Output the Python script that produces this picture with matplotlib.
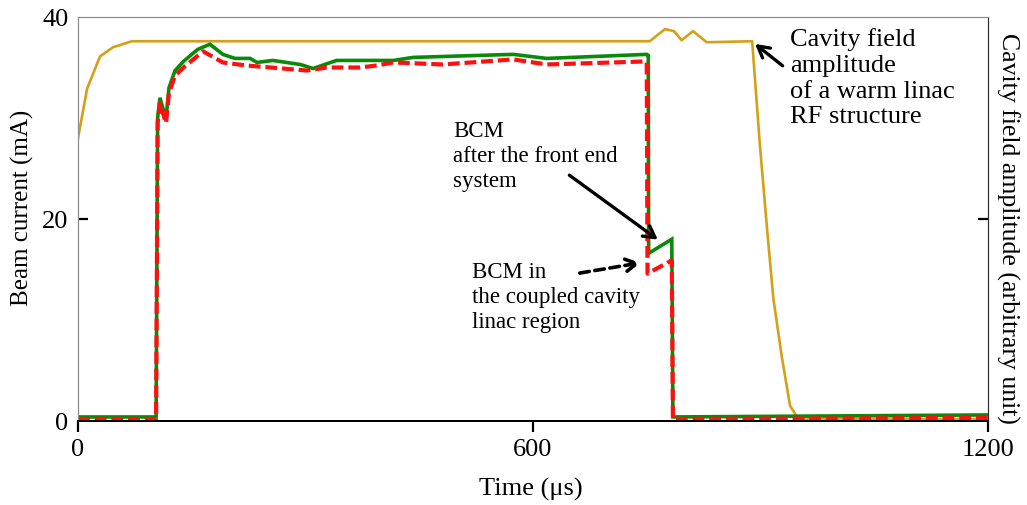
import matplotlib
matplotlib.use("Agg")
import matplotlib.pyplot as plt

plt.rcParams['font.family'] = ['Liberation Serif', 'DejaVu Serif']
plt.rcParams['lines.scale_dashes'] = False

# Cavity field amplitude (gold, right axis, arbitrary unit on same 0-40 scale)
gold_t = [0, 12, 29, 46, 71, 754, 774, 786, 796, 811, 829, 889, 899, 909, 917, 928, 939, 950, 1200]
gold_v = [28.0, 32.9, 36.1, 37.0, 37.6, 37.6, 38.8, 38.6, 37.7, 38.6, 37.5, 37.6, 27.5, 18.7, 12.1, 6.4, 1.5, 0.2, 0.2]

# BCM after the front end system (green)
green_t = [0, 103, 105, 108, 116, 120, 128, 139, 158, 174, 191, 207, 227, 236, 257, 293, 310, 341,
           394, 416, 442, 574, 618, 750, 752, 752.5, 783, 784.5, 1200]
green_v = [0.4, 0.4, 30.0, 32.0, 29.9, 33.0, 34.7, 35.6, 36.8, 37.3, 36.3, 35.9, 35.9, 35.5, 35.7, 35.3, 34.9, 35.7,
           35.7, 35.7, 36.0, 36.3, 35.9, 36.3, 36.2, 16.6, 18.0, 0.4, 0.6]

# BCM in the coupled cavity linac region (red dashed)
red_t = [0, 103, 105, 108, 116, 120, 128, 139, 165, 191, 222, 302, 328, 372, 394, 416, 481, 574, 618,
         748, 750, 751, 783, 784.5, 1200]
red_v = [0.2, 0.2, 29.5, 31.5, 29.5, 32.5, 34.2, 35.0, 36.6, 35.5, 35.2, 34.7, 35.0, 35.0, 35.2, 35.5, 35.3, 35.8, 35.3,
         35.6, 35.5, 14.6, 15.9, 0.2, 0.3]

xticks = [0, 600, 1200]
yticks = [0, 20, 40]

fig = plt.figure(figsize=(10.27, 5.06), dpi=100)
ax = fig.add_axes([78/1027, 1-422/506, 910/1027, 404/506])
ax2 = ax.twinx()

gold = '#D4A017'
ax2.plot(gold_t, gold_v, color=gold, lw=1.9, solid_joinstyle='round')
ax.plot(green_t, green_v, color='#0A8A0A', lw=2.6, solid_joinstyle='miter')
ax.plot(red_t, red_v, color='#FF1010', lw=3.0, dashes=(8.5, 3.5), dash_capstyle='butt')

ax.set_zorder(ax2.get_zorder() + 1)
ax.patch.set_visible(False)

for a in (ax, ax2):
    a.set_xlim(0, 1200)
    a.set_ylim(0, 40)

ax.set_xticks(xticks)
ax.set_xticklabels([str(v) for v in xticks])
ax.set_yticks(yticks)
ax.set_yticklabels([str(v) for v in yticks])
ax.tick_params(axis='x', direction='out', length=8, width=1.6, labelsize=19, pad=4)
ax.tick_params(axis='y', direction='in', length=7, width=1.6, labelsize=19, pad=7)
yt = ax.yaxis.get_major_ticks()
yt[0].tick1line.set_visible(False)
yt[2].tick1line.set_visible(False)

ax2.set_yticks([20])
ax2.set_yticklabels([''])
ax2.tick_params(axis='y', direction='in', length=7, width=1.6)

for a in (ax, ax2):
    a.spines['left'].set_color('#8c8c8c')
    a.spines['top'].set_color('#8c8c8c')
    a.spines['right'].set_color('#303030')
    a.spines['bottom'].set_color('black')
    a.spines['bottom'].set_linewidth(1.4)

ax.set_xlabel('Time (μs)', fontsize=19, va='center', ha='center')
ax.xaxis.set_label_coords(0.498, -0.168)
ax.set_ylabel('Beam current (mA)', fontsize=18, va='center', ha='center')
ax.yaxis.set_label_coords(-0.0615, 0.53)
ax2.set_ylabel('Cavity field amplitude (arbitrary unit)', fontsize=18.5, rotation=270, va='center', ha='center')
ax2.yaxis.set_label_coords(1.0215, 0.478)

# Annotations
head = '->,head_length=0.8,head_width=0.45'
ax.annotate('', xy=(890, 37.5), xytext=(932, 35.0),
            arrowprops=dict(arrowstyle=head, color='black', lw=2.4))
ax.text(939, 39.0, 'Cavity field\namplitude\nof a warm linac\nRF structure', fontsize=19,
        ha='left', va='top', linespacing=1.22)

ax.annotate('', xy=(767.5, 17.8), xytext=(645, 24.5),
            arrowprops=dict(arrowstyle=head, color='black', lw=2.4))
ax.text(494.5, 29.8, 'BCM\nafter the front end\nsystem', fontsize=16.5, ha='left', va='top', linespacing=1.25)

ax.annotate('', xy=(745, 15.7), xytext=(658, 14.6),
            arrowprops=dict(arrowstyle=head, color='black', lw=2.6, linestyle=(0, (7, 4))))
ax.text(519.6, 15.8, 'BCM in\nthe coupled cavity\nlinac region', fontsize=16.5, ha='left', va='top', linespacing=1.25)

fig.savefig('out.png', dpi=100)
